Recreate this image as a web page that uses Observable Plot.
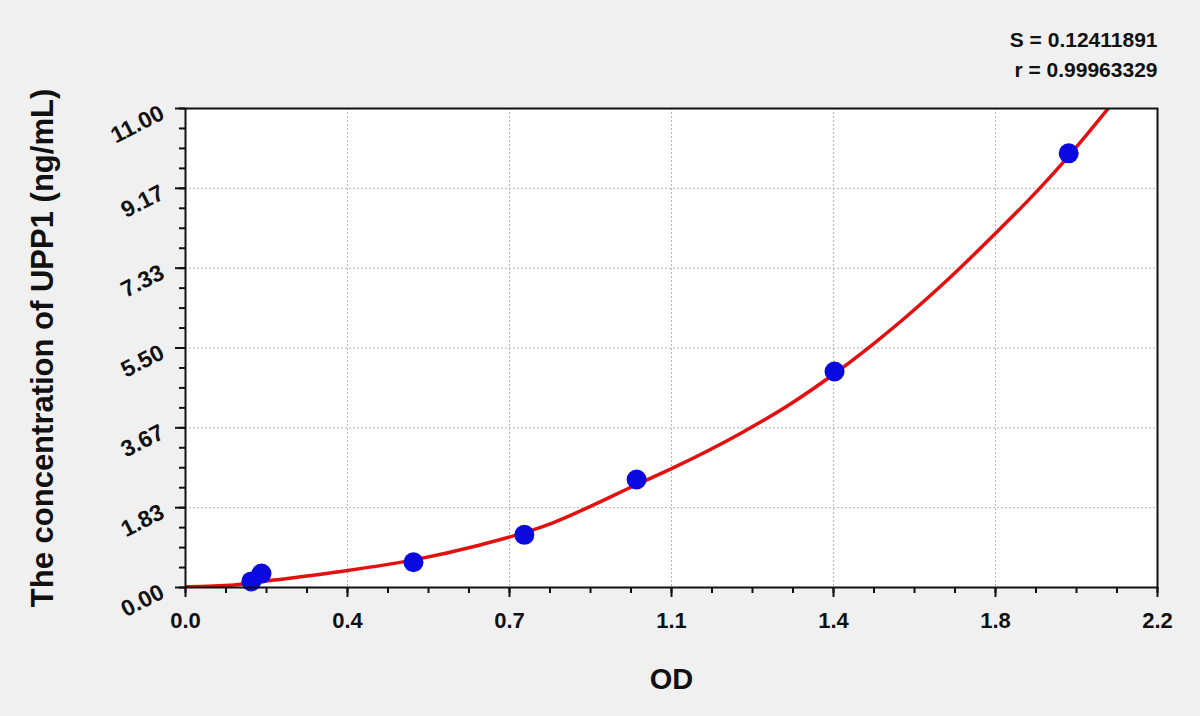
<!DOCTYPE html>
<html><head><meta charset="utf-8">
<script src="https://cdn.jsdelivr.net/npm/d3@7"></script>
<script src="https://cdn.jsdelivr.net/npm/@observablehq/plot@0.6"></script>
<style>body{margin:0;background:#f0f0f0;}</style>
</head><body><div id="chart"></div>
<script>
// Standard points (OD vs concentration)
const pointOD   = [0.149, 0.172, 0.516, 0.767, 1.021, 1.469, 1.999];
const pointConc = [0.14, 0.32, 0.58, 1.21, 2.48, 4.96, 9.97];
// Fitted curve
const curveOD   = [0, 0.11, 0.20, 0.36, 0.52, 0.66, 0.77, 0.83, 0.92, 1.02, 1.10, 1.26, 1.37, 1.47, 1.56, 1.62, 1.72, 1.83, 1.93, 2.00, 2.09];
const curveConc = [0.02, 0.06, 0.17, 0.38, 0.64, 0.96, 1.27, 1.48, 1.88, 2.36, 2.73, 3.56, 4.22, 4.92, 5.62, 6.12, 7.02, 8.10, 9.13, 9.92, 11.02];
// Axis ticks
const xTickValues = [0, 0.36667, 0.73333, 1.1, 1.46667, 1.83333, 2.2];
const xTickLabels = ["0.0", "0.4", "0.7", "1.1", "1.4", "1.8", "2.2"];
const yTickValues = [0, 1.83333, 3.66667, 5.5, 7.33333, 9.16667, 11];
const yTickLabels = ["0.00", "1.83", "3.67", "5.50", "7.33", "9.17", "11.00"];
const xMinor = d3.range(0, 25).map(i => i * 2.2 / 24);
const yMinor = d3.range(0, 25).map(i => i * 11 / 24);
const statLines = ["S = 0.12411891", "r = 0.99963329"];

const points = pointOD.map((x, i) => ({x, y: pointConc[i]}));
const curve = curveOD.map((x, i) => ({x, y: curveConc[i]}));
const font = "'Liberation Sans', Arial, Helvetica, sans-serif";

const chart = Plot.plot({
  width: 1200, height: 716,
  marginLeft: 185, marginRight: 43, marginTop: 108, marginBottom: 129,
  x: {domain: [0, 2.2]},
  y: {domain: [0, 11]},
  style: {background: "#f0f0f0", fontFamily: font, fontWeight: "bold", color: "#111"},
  marks: [
    Plot.frame({fill: "white", stroke: "none"}),
    Plot.gridX(xTickValues.slice(1, -1), {stroke: "#b4b4b4", strokeOpacity: 1, strokeDasharray: "2,2"}),
    Plot.gridY(yTickValues.slice(1, -1), {stroke: "#b4b4b4", strokeOpacity: 1, strokeDasharray: "2,2"}),
    Plot.axisX(xMinor, {tickSize: 6, strokeWidth: 2, tickFormat: () => "", label: null}),
    Plot.axisX(xTickValues, {tickSize: 10, strokeWidth: 2, tickFormat: () => "", label: null}),
    Plot.text(xTickLabels, {x: xTickValues, text: d => d, frameAnchor: "bottom", dy: 33,
      textAnchor: "middle", lineAnchor: "middle", fontSize: 22, fill: "#111"}),
    Plot.axisY(yMinor, {tickSize: 6, strokeWidth: 2, tickFormat: () => "", label: null}),
    Plot.axisY(yTickValues, {tickSize: 10, strokeWidth: 2, tickFormat: () => "", label: null}),
    Plot.text(yTickLabels, {y: yTickValues, text: d => d, frameAnchor: "left", dx: -23, dy: 3,
      textAnchor: "end", lineAnchor: "middle", rotate: -27, fontSize: 23, fill: "#111"}),
    Plot.line(curve, {x: "x", y: "y", stroke: "#e41010", strokeWidth: 3.5, curve: "monotone-x", clip: true}),
    Plot.dot(points, {x: "x", y: "y", r: 10, fill: "#0a0ae0", stroke: "none"}),
    Plot.frame({stroke: "#111", strokeWidth: 2}),
    Plot.text(["The concentration of UPP1 (ng/mL)"], {frameAnchor: "left", dx: -142, rotate: -90,
      textAnchor: "middle", fontSize: 31, fill: "#111"}),
    Plot.text(["OD"], {frameAnchor: "bottom", dy: 92, textAnchor: "middle", lineAnchor: "middle", fontSize: 29, fill: "#111"}),
    Plot.text([statLines[0]], {frameAnchor: "top-right", dy: -68, textAnchor: "end", lineAnchor: "middle", fontSize: 21, fill: "#111"}),
    Plot.text([statLines[1]], {frameAnchor: "top-right", dy: -38, textAnchor: "end", lineAnchor: "middle", fontSize: 21, fill: "#111"})
  ]
});
document.getElementById("chart").appendChild(chart);
</script>
</body></html>
